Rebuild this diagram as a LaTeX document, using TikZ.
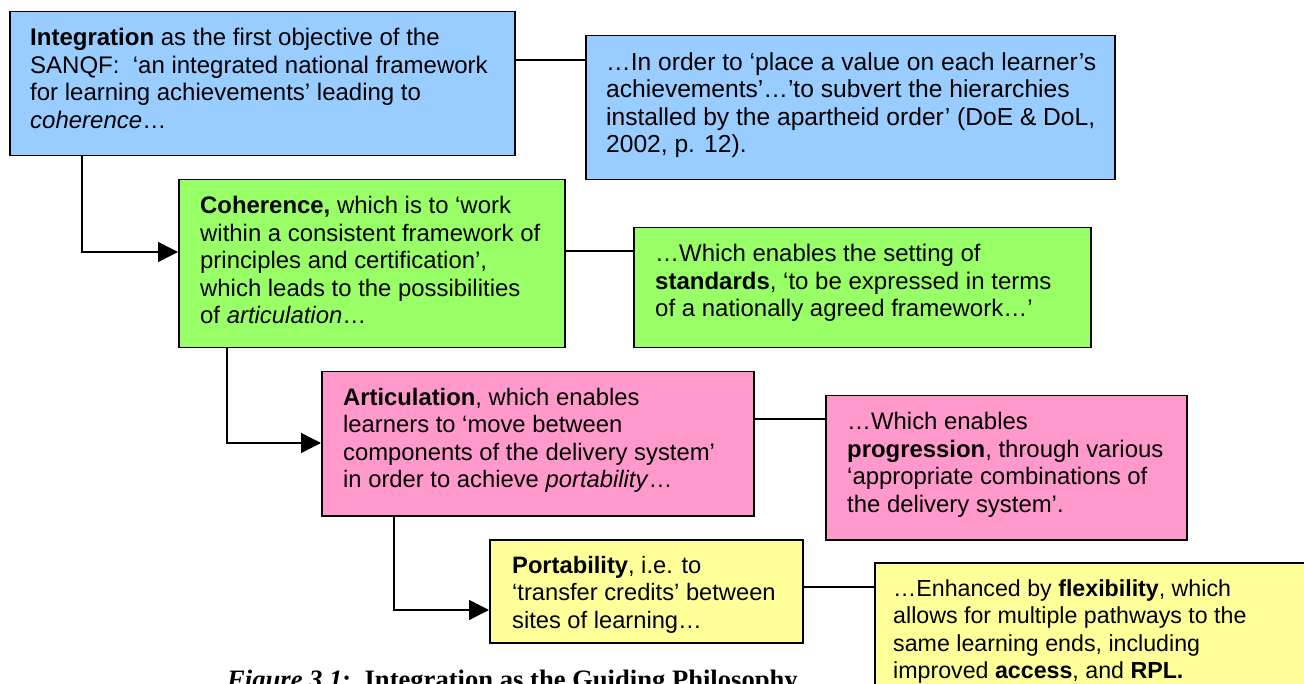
\documentclass[tikz,border=0pt]{standalone}
\usepackage{fontspec}
\setmainfont{Liberation Sans}
\newfontfamily\capfont{Liberation Serif}
\usetikzlibrary{arrows.meta,calc}
\definecolor{cblue}{HTML}{99CCFF}
\definecolor{cgreen}{HTML}{99FF66}
\definecolor{cpink}{HTML}{FF99CC}
\definecolor{cyellow}{HTML}{FFFF99}
\tikzset{
  box/.style={draw=black, line width=1.5pt, fill=#1, anchor=north west, inner sep=0pt},
  txt/.style={anchor=north west, inner sep=0pt, align=left, font=\fontsize{#1}{27.5}\selectfont},
  link/.style={draw=black, line width=1.5pt},
  arr/.style={link, -{Triangle[length=20pt,width=20pt]}},
}
\begin{document}
\begin{tikzpicture}[x=1pt,y=1pt]
\useasboundingbox (0,0) rectangle (1304,-684);
\clip (0,0) rectangle (1304,-684);
% boxes
\node[box=cblue, minimum width=505pt, minimum height=144pt] (integ) at (9,-11) {};
\node[box=cblue, minimum width=529pt, minimum height=144pt] (value) at (585,-35) {};
\node[box=cgreen, minimum width=386pt, minimum height=168pt] (coh) at (178,-179) {};
\node[box=cgreen, minimum width=457pt, minimum height=120pt] (stand) at (633,-227) {};
\node[box=cpink, minimum width=432pt, minimum height=144pt] (artic) at (321,-371) {};
\node[box=cpink, minimum width=361pt, minimum height=144pt] (prog) at (825,-395) {};
\node[box=cyellow, minimum width=313pt, minimum height=103pt] (port) at (489,-539) {};
\node[box=cyellow, minimum width=460pt, minimum height=150pt] (flex) at (874,-562) {};
% texts
\node[txt=24] (integT) at ([shift={(21,-17)}]integ.north west) {\textbf{Integration} as the first objective of the\\SANQF:\ \ ‘an integrated national framework\\for learning achievements’ leading to\\\textit{coherence}…};
\node[txt=24.6] (valueT) at ([shift={(21,-17)}]value.north west) {…In order to ‘place a value on each learner’s\\achievements’…’to subvert the hierarchies\\installed by the apartheid order’ (DoE \& DoL,\\2002, p. 12).};
\node[txt=23.9] (cohT) at ([shift={(22,-17)}]coh.north west) {\textbf{Coherence,} which is to ‘work\\within a consistent framework of\\principles and certification’,\\which leads to the possibilities\\of \textit{articulation}…};
\node[txt=24] (standT) at ([shift={(22,-17)}]stand.north west) {…Which enables the setting of\\\textbf{standards}, ‘to be expressed in terms\\of a nationally agreed framework…’};
\node[txt=23.8] (articT) at ([shift={(22,-17)}]artic.north west) {\textbf{Articulation}, which enables\\learners to ‘move between\\components of the delivery system’\\in order to achieve \textit{portability}…};
\node[txt=23.9] (progT) at ([shift={(22,-17)}]prog.north west) {…Which enables\\\textbf{progression}, through various\\‘appropriate combinations of\\the delivery system’.};
\node[txt=23.7] (portT) at ([shift={(23,-17)}]port.north west) {\textbf{Portability}, i.e. to\\‘transfer credits’ between\\sites of learning…};
\node[txt=23.2] (flexT) at ([shift={(19,-17)}]flex.north west) {…Enhanced by \textbf{flexibility}, which\\allows for multiple pathways to the\\same learning ends, including\\improved \textbf{access}, and \textbf{RPL.}};
% caption
\node[anchor=base west, inner sep=0pt, font=\capfont\fontsize{26.6}{30}\selectfont\bfseries] (cap) at (227,-688) {\textit{Figure 3.1}:\ \ Integration as the Guiding Philosophy};
% connectors
\draw[link] ([yshift=-49]integ.north east) -- ([yshift=-49]integ.north east -| value.west);
\draw[link] ([yshift=-72]coh.north east) -- ([yshift=-72]coh.north east -| stand.west);
\draw[link] ([yshift=-48]artic.north east) -- ([yshift=-48]artic.north east -| prog.west);
\draw[link] ([yshift=-48]port.north east) -- ([yshift=-48]port.north east -| flex.west);
\draw[arr] ([xshift=73]integ.south west) |- ([yshift=-73]coh.north west);
\draw[arr] ([xshift=49]coh.south west) |- ([yshift=-72]artic.north west);
\draw[arr] ([xshift=73]artic.south west) |- ([yshift=-71]port.north west);
\end{tikzpicture}
\end{document}
